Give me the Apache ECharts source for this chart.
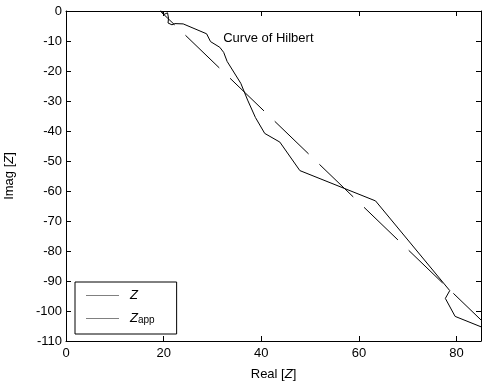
<!DOCTYPE html>
<html>
<head>
<meta charset="utf-8">
<script src="https://cdn.jsdelivr.net/npm/echarts@6/dist/echarts.min.js"></script>
<style>
  html, body { margin: 0; padding: 0; background: #fff; }
  #chart { width: 482px; height: 384px; }
</style>
</head>
<body>
<div id="chart"></div>
<script>
// measured curve Z (Real, Imag)
const zPoints = [
  [19.4, 0.2], [20.0, -1.2], [20.8, -0.6], [21.0, -2.4], [20.9, -4.0],
  [21.7, -4.6], [22.3, -4.2], [24.0, -4.3], [28.8, -7.6], [29.6, -10.2],
  [31.5, -12.1], [32.3, -13.8], [33.0, -16.8], [35.8, -24.1], [37.2, -29.7],
  [38.8, -35.5], [40.7, -40.8], [43.8, -43.7], [47.9, -53.2], [63.4, -63.3],
  [78.6, -93.2], [77.7, -95.8], [79.7, -101.8], [85.5, -105.6]
];
// approximation Z_app
const zAppPoints = [[19.3, 0], [85.2, -103.3]];

const xTicks = [0, 20, 40, 60, 80];
const yTicks = [0, -10, -20, -30, -40, -50, -60, -70, -80, -90, -100, -110];
const annotation = { text: "Curve of Hilbert", at: [32.2, -9.1] };

const font = "Liberation Sans, Arial, sans-serif";
const chart = echarts.init(document.getElementById("chart"));

const axisCommon = {
  axisLine: { show: true, onZero: false, lineStyle: { color: "#000", width: 1 } },
  axisTick: { show: true, inside: true, length: 5, lineStyle: { color: "#000" } },
  splitLine: { show: false }
};

const option = {
  animation: false,
  textStyle: { fontFamily: font },
  grid: { left: 66, top: 11, right: 1, bottom: 43, containLabel: false, outerBoundsMode: "none" },
  xAxis: [
    Object.assign({}, axisCommon, {
      type: "value",
      min: xTicks[0],
      max: 85,
      interval: 20,
      position: "bottom",
      name: "Real [{i|Z}]",
      nameLocation: "middle",
      nameGap: 27,
      nameTextStyle: {
        color: "#000", fontSize: 13, fontFamily: font,
        rich: { i: { fontStyle: "italic", fontSize: 13, color: "#000", fontFamily: font } }
      },
      axisLabel: {
        color: "#000", fontSize: 13, margin: 6,
        formatter: v => (xTicks.indexOf(v) >= 0 ? String(v) : "")
      }
    }),
    Object.assign({}, axisCommon, {
      type: "value",
      min: xTicks[0],
      max: 85,
      interval: 20,
      position: "top",
      axisLabel: { show: false }
    })
  ],
  yAxis: [
    Object.assign({}, axisCommon, {
      type: "value",
      min: yTicks[yTicks.length - 1],
      max: yTicks[0],
      interval: 10,
      position: "left",
      name: "Imag [{i|Z}]",
      nameLocation: "middle",
      nameGap: 50,
      nameRotate: 90,
      nameTextStyle: {
        color: "#000", fontSize: 13, fontFamily: font,
        rich: { i: { fontStyle: "italic", fontSize: 13, color: "#000", fontFamily: font } }
      },
      axisLabel: { color: "#000", fontSize: 13, margin: 4 }
    }),
    Object.assign({}, axisCommon, {
      type: "value",
      min: yTicks[yTicks.length - 1],
      max: yTicks[0],
      interval: 10,
      position: "right",
      axisLabel: { show: false }
    })
  ],
  legend: {
    orient: "vertical",
    left: 75,
    top: 282,
    padding: [7, 22, 9, 11],
    itemGap: 7,
    icon: "rect",
    itemWidth: 33,
    itemHeight: 1,
    borderColor: "#000",
    borderWidth: 1,
    backgroundColor: "#fff",
    itemStyle: { color: "#808080", borderWidth: 0 },
    data: ["Z", "Zapp"],
    formatter: name => (name === "Zapp" ? "{i|Z}{s|app}" : "{i|Z}"),
    textStyle: {
      color: "#000", fontSize: 13, padding: [0, 0, 0, 6],
      rich: {
        i: { fontStyle: "italic", fontSize: 13, color: "#000", fontFamily: font, lineHeight: 13 },
        s: { fontSize: 10, color: "#000", fontFamily: font, verticalAlign: "bottom", padding: [6, 0, 0, 0], lineHeight: 13 }
      }
    }
  },
  series: [
    {
      name: "Z",
      type: "line",
      data: zPoints,
      symbol: "none",
      clip: true,
      lineStyle: { color: "#000", width: 1 },
      itemStyle: { color: "#808080" },
      markPoint: {
        symbol: "circle",
        symbolSize: 0,
        silent: true,
        label: {
          show: true,
          position: [0, 0],
          align: "left",
          verticalAlign: "middle",
          color: "#000",
          fontSize: 13,
          fontFamily: font,
          formatter: annotation.text
        },
        data: [{ coord: annotation.at }]
      }
    },
    {
      name: "Zapp",
      type: "line",
      data: zAppPoints,
      symbol: "none",
      clip: true,
      lineStyle: { color: "#000", width: 1, type: [47, 15], dashOffset: 27 },
      itemStyle: { color: "#808080" }
    }
  ]
};

chart.setOption(option);
</script>
</body>
</html>
